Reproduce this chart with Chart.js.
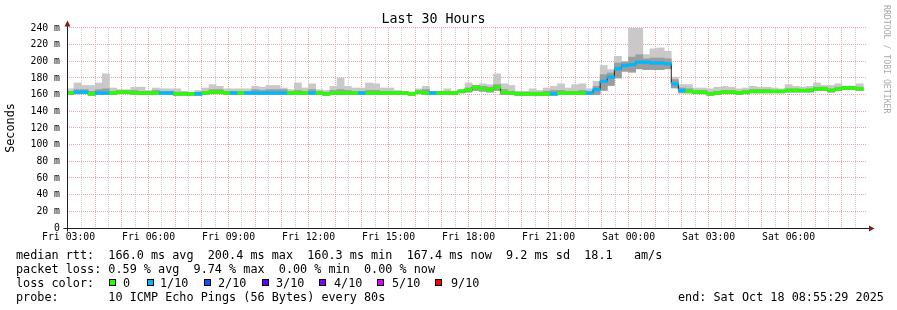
<!DOCTYPE html>
<html>
<head>
<meta charset="utf-8">
<title>Last 30 Hours</title>
<script src="https://cdn.jsdelivr.net/npm/chart.js@4.4.1/dist/chart.umd.min.js"></script>
<style>
  html, body { margin: 0; padding: 0; background: #fff; }
  #wrap { position: relative; width: 897px; height: 310px; overflow: hidden; }
  #chart { position: absolute; left: 0; top: 0; }
  .txt { position: absolute; font-family: 'DejaVu Sans Mono', monospace; font-size: 11.8px; line-height: 14px; white-space: pre; color: #000; }
  .box { position: absolute; width: 5px; height: 5px; border: 1px solid #000; }
  #credit { position: absolute; left: 882px; top: 5px; writing-mode: vertical-rl; font-family: 'DejaVu Sans Mono', monospace; font-size: 8.2px; line-height: 10px; color: #aaa; white-space: pre; }
</style>
</head>
<body>
<div id="wrap">
  <canvas id="chart" width="897" height="310"></canvas>
  <div id="credit">RRDTOOL / TOBI OETIKER</div>
  <div class="txt" style="left:16px;top:248px">median rtt:  166.0 ms avg  200.4 ms max  160.3 ms min  167.4 ms now  9.2 ms sd  18.1   am/s</div>
  <div class="txt" style="left:16px;top:261.5px">packet loss: 0.59 % avg  9.74 % max  0.00 % min  0.00 % now</div>
  <div class="txt" style="left:16px;top:275.5px">loss color:</div>
  <div id="lossLegend"></div>
  <div class="txt" style="left:16px;top:289.5px">probe:       10 ICMP Echo Pings (56 Bytes) every 80s</div>
  <div class="txt" style="left:678px;top:289.5px">end: Sat Oct 18 08:55:29 2025</div>
</div>
<script>
// time in hours from Fri 03:00, rrd bins are 16 minutes wide
const binMinutes = 16;
const firstBinStart = -4; // minutes, first bin starts Fri 02:56

const medianRtt = [
  162,163,163,161,162,162,162,163,163,162,
  162,162,162,162,162,161,161,161,161,162,
  163,163,162,162,162,162,162,162,162,162,
  162,162,162,162,162,162,161,162,162,162,
  162,162,162,162,162,162,162,162,161,163,
  162,162,162,162,162,164,166,169,167,166,
  169,163,162,161,161,161,161,161,161,162,
  162,162,162,162,166,176,181,191,195,196,
  199,199,198,198,197,173,165,164,163,163,
  161,162,163,163,162,163,164,164,164,164,
  164,165,165,165,165,167,167,165,167,168,
  168,167
];
const smokeLow = [
  160,161,161,159,160,160,160,161,161,160,
  160,160,160,160,160,159,159,159,159,160,
  161,161,160,160,160,160,160,160,160,160,
  160,160,160,160,160,160,159,160,160,160,
  160,160,160,160,160,160,160,160,159,161,
  160,160,160,160,160,162,163,165,164,163,
  165,160,160,159,159,159,159,159,159,160,
  160,160,160,160,160,165,171,180,188,187,
  191,190,190,190,191,168,162,162,161,161,
  159,160,161,161,160,161,162,162,162,162,
  162,163,163,163,163,165,165,163,165,166,
  166,165
];
const smokeInner = [
  164,166,166,164,166,167,164,165,165,165,
  164,164,165,164,164,163,163,162,163,164,
  166,166,164,164,164,164,166,165,166,166,
  166,164,165,164,166,164,163,165,166,165,
  164,164,165,165,164,164,164,164,162,165,
  166,164,164,164,164,166,168,171,170,169,
  172,166,164,163,163,163,163,164,165,165,
  164,164,165,164,170,184,186,198,199,205,
  208,203,204,204,203,178,168,167,165,165,
  163,164,165,165,164,165,166,166,166,165,
  165,167,167,166,167,169,169,167,169,170,
  170,169
];
const smokeHigh = [
  167,174,171,171,174,185,168,166,166,169,
  169,165,168,167,167,167,164,163,165,168,
  172,170,167,167,167,167,170,169,171,171,
  168,166,174,168,173,166,165,170,180,170,
  168,168,174,173,168,168,165,164,163,167,
  170,163,163,167,163,165,174,171,173,172,
  185,173,171,164,164,167,165,168,170,173,
  168,172,173,167,176,195,190,206,200,240,
  240,208,215,216,212,181,172,172,168,168,
  167,169,170,169,167,168,170,169,169,168,
  167,172,170,169,170,174,171,171,173,170,
  170,173
];
// pings lost out of 10 in each bin
const lostPings = [
  0,1,1,0,1,1,0,0,0,0,
  0,0,0,1,1,0,0,0,1,0,
  0,0,0,1,0,1,1,1,1,1,
  1,0,0,0,1,0,0,0,0,0,
  0,1,0,0,0,0,0,0,0,0,
  0,1,0,0,0,0,0,0,0,0,
  0,0,0,0,0,0,0,0,1,0,
  0,0,0,1,1,1,1,1,1,1,
  1,1,1,1,1,1,1,0,0,0,
  0,0,0,0,0,0,0,0,0,0,
  0,0,0,0,0,0,0,0,0,0,
  0,0
];

const lossLevels = [0, 1, 2, 3, 4, 5, 9];
const lossLabels = ['0', '1/10', '2/10', '3/10', '4/10', '5/10', '9/10'];
const lossColors = ['#26ff00', '#00b8ff', '#0059ff', '#5e00ff', '#7e00ff', '#dd00ff', '#ff0000'];

const xLabelHours = [0, 3, 6, 9, 12, 15, 18, 21, 24, 27];
const xTickLabels = ['Fri 03:00', 'Fri 06:00', 'Fri 09:00', 'Fri 12:00', 'Fri 15:00',
                     'Fri 18:00', 'Fri 21:00', 'Sat 00:00', 'Sat 03:00', 'Sat 06:00'];
const gridStepHours = 0.5;

const xMin = -0.06, xMax = 29.94;
const mono = 'DejaVu Sans Mono';
const majorGrid = '#f0a5a5';
const minorGrid = '#cdcdcd';

// legend boxes under the chart
const legendBoxX = [109, 147, 204, 262, 319, 377, 435];
const legendTextX = [123, 160, 218, 276, 334, 392, 451];
const $legend = document.getElementById('lossLegend');
lossLabels.forEach((lab, i) => {
  const b = document.createElement('div');
  b.className = 'box';
  b.style.left = legendBoxX[i] + 'px';
  b.style.top = '279px';
  b.style.background = lossColors[i];
  $legend.appendChild(b);
  const t = document.createElement('div');
  t.className = 'txt';
  t.style.left = legendTextX[i] + 'px';
  t.style.top = '275.5px';
  t.textContent = lab;
  $legend.appendChild(t);
});

function lossColor(n) {
  let c = lossColors[0];
  lossLevels.forEach((lv, i) => { if (n >= lv) c = lossColors[i]; });
  return c;
}

const binCenters = medianRtt.map((_, i) => (firstBinStart + binMinutes * (i + 0.5)) / 60);

const gridHours = [];
for (let h = 0; h < xMax; h += gridStepHours) gridHours.push(h);

const axisArrows = {
  id: 'axisArrows',
  afterDraw(chart) {
    const ctx = chart.ctx;
    const a = chart.chartArea;
    const x0 = Math.round(a.left) + 0.5;
    const y0 = Math.round(a.bottom) + 0.5;
    ctx.save();
    ctx.strokeStyle = '#1f1f1f';
    ctx.lineWidth = 1;
    ctx.beginPath();
    ctx.moveTo(x0, y0 + 3);
    ctx.lineTo(x0, a.top - 3);
    ctx.moveTo(x0 - 4, y0);
    ctx.lineTo(a.right + 3, y0);
    ctx.stroke();
    ctx.fillStyle = '#801f1f';
    ctx.beginPath();
    ctx.moveTo(x0, a.top - 7.5);
    ctx.lineTo(x0 - 3, a.top - 1.5);
    ctx.lineTo(x0 + 3, a.top - 1.5);
    ctx.closePath();
    ctx.fill();
    ctx.beginPath();
    ctx.moveTo(a.right + 7.5, y0);
    ctx.lineTo(a.right + 2, y0 - 3);
    ctx.lineTo(a.right + 2, y0 + 3);
    ctx.closePath();
    ctx.fill();
    ctx.restore();
  }
};

const barCommon = {
  type: 'bar',
  grouped: false,
  barPercentage: 1,
  categoryPercentage: 1,
  borderWidth: 0,
  borderSkipped: false
};

const ctx = document.getElementById('chart').getContext('2d');
new Chart(ctx, {
  data: {
    datasets: [
      Object.assign({}, barCommon, {
        label: 'smoke',
        data: binCenters.map((x, i) => ({ x: x, y: [smokeLow[i], smokeHigh[i]] })),
        backgroundColor: '#c9c9c9',
        order: 4
      }),
      Object.assign({}, barCommon, {
        label: 'smoke inner',
        data: binCenters.map((x, i) => ({ x: x, y: [smokeLow[i], smokeInner[i]] })),
        backgroundColor: '#9d9d9d',
        order: 3
      }),
      {
        type: 'line',
        label: 'median',
        data: binCenters.map((x, i) => ({ x: x, y: medianRtt[i] })),
        stepped: 'middle',
        borderColor: '#202020',
        borderWidth: 1,
        pointRadius: 0,
        fill: false,
        order: 2
      },
      Object.assign({}, barCommon, {
        label: 'median loss',
        data: binCenters.map((x, i) => ({ x: x, y: [medianRtt[i] - 1.6, medianRtt[i] + 1.6] })),
        backgroundColor: lostPings.map(lossColor),
        order: 1
      })
    ]
  },
  options: {
    responsive: false,
    animation: false,
    events: [],
    layout: { padding: { left: 0, right: 30, top: 0, bottom: 0 } },
    plugins: {
      legend: { display: false },
      tooltip: { enabled: false },
      title: {
        display: true,
        text: 'Last 30 Hours',
        color: '#000',
        font: { family: mono, size: 13.3, weight: 'normal' },
        padding: { top: 12, bottom: 0 }
      }
    },
    scales: {
      x: {
        type: 'linear',
        min: xMin,
        max: xMax,
        offset: false,
        z: 1,
        afterBuildTicks: s => { s.ticks = gridHours.map(v => ({ value: v })); },
        afterFit: s => { s.height = 82; },
        grid: {
          offset: false,
          drawTicks: false,
          lineWidth: 1,
          color: c => {
            const v = c.tick ? c.tick.value : 1;
            if (v === 0) return 'rgba(0,0,0,0)';
            return Math.abs(v % 1) < 1e-6 ? majorGrid : minorGrid;
          }
        },
        border: { display: false, dash: [1, 1] },
        ticks: {
          autoSkip: false,
          maxRotation: 0,
          padding: 4,
          color: '#000',
          font: { family: mono, size: 9.8 },
          callback: v => {
            const i = xLabelHours.indexOf(v);
            return i >= 0 ? xTickLabels[i] : '';
          }
        }
      },
      y: {
        min: 0,
        max: 240,
        z: 1,
        afterFit: s => { s.width = 67; },
        grid: {
          drawTicks: false,
          lineWidth: 1,
          color: c => (c.tick && c.tick.value % 20 === 0) ? majorGrid : minorGrid
        },
        border: { display: false, dash: [1, 1] },
        ticks: {
          stepSize: 10,
          padding: 7,
          color: '#000',
          font: { family: mono, size: 9.8 },
          callback: v => v % 20 ? '' : (v === 0 ? '0' : v + ' m')
        },
        title: {
          display: true,
          text: 'Seconds',
          color: '#000',
          font: { family: mono, size: 11.8 },
          padding: { top: 4, bottom: 0 }
        }
      }
    }
  },
  plugins: [axisArrows]
});
</script>
</body>
</html>
